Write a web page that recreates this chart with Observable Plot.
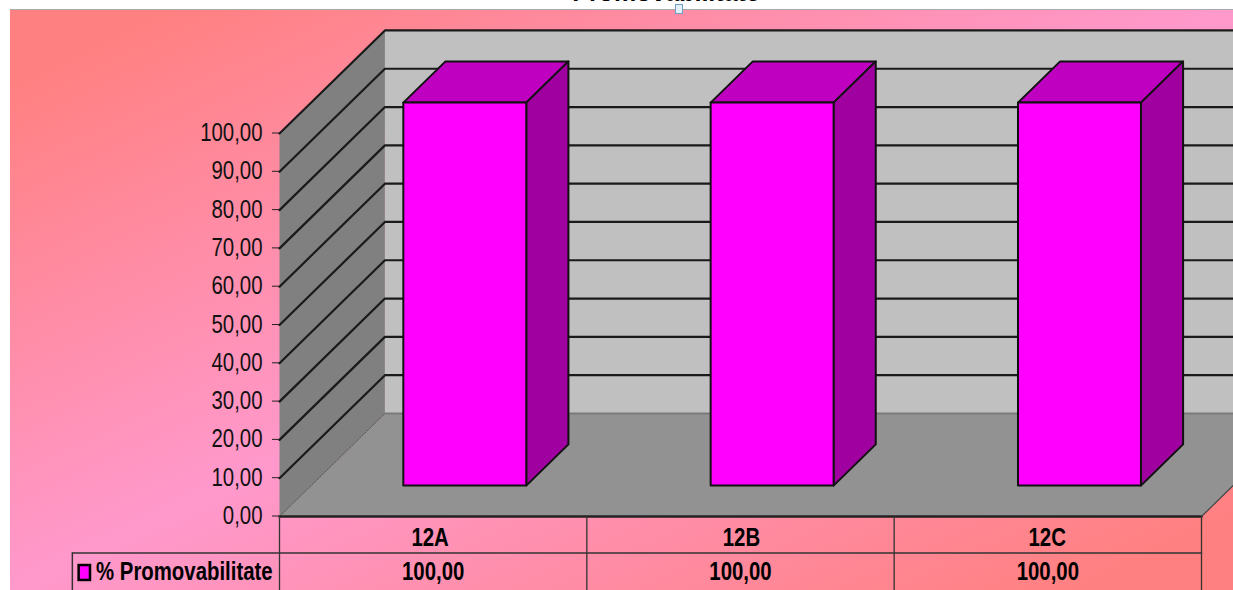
<!DOCTYPE html>
<html>
<head>
<meta charset="utf-8">
<script src="https://cdn.jsdelivr.net/npm/d3@7"></script>
<script src="https://cdn.jsdelivr.net/npm/@observablehq/plot@0.6"></script>
<style>
html,body{margin:0;padding:0;background:#fff;overflow:hidden}
#root{position:relative;width:1233px;height:590px;overflow:hidden}
#bg{position:absolute;left:10px;top:9px;right:0;bottom:0;border-top:1px solid #aaa;
  background:linear-gradient(to bottom right,#ff8080 6%,#ff99cc 50%,#ff8080 94%)}
#chart{position:absolute;left:0;top:0}
#chart svg{display:block;overflow:hidden}
#title{position:absolute;left:466px;width:400px;text-align:center;top:-22px;
  font:bold 25px "Liberation Sans",Arial,sans-serif;color:#000}
#handle{position:absolute;left:675px;top:4px;width:6px;height:8px;background:#e4f1fa;border:1px solid #6f9fc8}
</style>
</head>
<body>
<div id="root">
  <div id="bg"></div>
  <div id="chart"></div>
  <div id="title">Promovabilitate</div>
  <div id="handle"></div>
</div>
<script>
const titleText = "Promovabilitate";
const seriesName = "% Promovabilitate";
const categories = ["12A", "12B", "12C"];
const categoryLabelPos = [0.49, 1.503, 2.498];
const values = [100, 100, 100];
const yTicks = [0, 10, 20, 30, 40, 50, 60, 70, 80, 90, 100];

const fmt = v => v.toFixed(2).replace(".", ",");
const family = '"Liberation Sans",Arial,sans-serif';
const FS = 25, SQUEEZE = 0.815;

// oblique 3D projection, in data units: depth 0 = front, depth 1 = back wall
const DX = 0.343, DY = 26.9;
const P = (c, v, d = 0) => ({x: c + d * DX, y: v + d * DY});
const poly = (pts, fill, stroke = "none", strokeWidth = 1, extra = {}) =>
  Plot.line(pts, {x: "x", y: "y", fill, stroke, strokeWidth, curve: "linear-closed", ...extra});
const seg = (a, b, stroke = "#111", strokeWidth = 2, extra = {}) =>
  Plot.line([a, b], {x: "x", y: "y", stroke, strokeWidth, ...extra});

const TOP = 100, NC = categories.length, FAR = NC + 1;
const LEFT = -0.674, ROW1 = -9.5, ROW2 = -21;

const marks = [];
// floor
marks.push(poly([P(0, 0, 0), P(NC, 0, 0), P(NC, 0, 1), P(0, 0, 1)], "#929292"));
// left wall
marks.push(poly([P(0, 0, 0), P(0, 0, 1), P(0, TOP, 1), P(0, TOP, 0)], "#808080"));
// back wall
marks.push(poly([P(0, 0, 1), P(FAR, 0, 1), P(FAR, TOP, 1), P(0, TOP, 1)], "#c0c0c0"));
// wall edges
marks.push(seg(P(0, 0, 0), P(0, 0, 1), "#555", 1, {strokeDasharray: "2,1.5"}));
marks.push(seg(P(0, TOP, 0), P(0, TOP, 1), "#555", 1, {strokeDasharray: "2,1.5"}));
marks.push(seg(P(0, 0, 1), P(FAR, 0, 1), "#7a7a7a", 2));
// gridlines on both walls
for (const t of yTicks.slice(1)) {
  marks.push(Plot.line([P(0, t, 0), P(0, t, 1), P(FAR, t, 1)], {x: "x", y: "y", stroke: "#1a1a1a", strokeWidth: 2.2}));
}
// bars
categories.forEach((cat, i) => {
  const v = values[i], c0 = i + 0.3, c1 = i + 0.7, d0 = 0.3, d1 = 0.7;
  const line = {stroke: "#111", width: 2};
  marks.push(poly([P(c0, v, d0), P(c1, v, d0), P(c1, v, d1), P(c0, v, d1)], "#c000c0", line.stroke, line.width));
  marks.push(poly([P(c1, 0, d0), P(c1, 0, d1), P(c1, v, d1), P(c1, v, d0)], "#a000a0", line.stroke, line.width));
  marks.push(poly([P(c0, 0, d0), P(c1, 0, d0), P(c1, v, d0), P(c0, v, d0)], "#ff00ff", line.stroke, line.width));
});
// front axis & data table lines
marks.push(seg(P(0, 0), P(NC, 0), "#222", 2.5));
marks.push(seg(P(NC, 0), P(NC, 0, 0.4), "#444", 1.2));
marks.push(seg(P(LEFT, ROW1), P(NC, ROW1), "#333", 1.5));
marks.push(seg(P(LEFT, ROW1), P(LEFT, ROW2), "#333", 1.5));
for (let i = 0; i <= NC; i++) marks.push(seg(P(i, 0), P(i, ROW2), "#333", 1.3));
// table text
marks.push(Plot.text(categories, {
  x: (d, i) => categoryLabelPos[i], y: () => -5.6, text: d => d,
  fontWeight: "bold", fontSize: FS, fill: "#000", fontFamily: family
}));
marks.push(Plot.text(values, {
  x: (d, i) => i + 0.5, y: () => -14.6, text: d => fmt(d),
  fontWeight: "bold", fontSize: FS, fill: "#000", fontFamily: family
}));
marks.push(Plot.text([seriesName], {
  x: () => -0.597, y: () => -14.6, text: d => d, textAnchor: "start",
  fontWeight: "bold", fontSize: FS, fill: "#000", fontFamily: family
}));
// legend key
marks.push(Plot.rect([0], {
  x1: () => -0.652, x2: () => -0.615, y1: () => -12.8, y2: () => -16.7,
  fill: "#ff00ff", stroke: "#000", strokeWidth: 2.5
}));
// value axis
marks.push(Plot.axisY({
  ticks: yTicks, tickFormat: fmt, tickSize: 7, tickPadding: 10, label: null, dy: -0.5,
  fontSize: FS, stroke: "#222", fill: "#111", fontFamily: family
}));

const chart = Plot.plot({
  width: 1233, height: 590,
  marginLeft: 279, marginRight: 32, marginTop: 133, marginBottom: 74,
  x: {domain: [0, NC], axis: null},
  y: {domain: [0, 100]},
  style: {background: "none", fontFamily: family, overflow: "hidden"},
  marks
});
document.getElementById("chart").appendChild(chart);
document.getElementById("title").textContent = titleText;
// the reference's labels are horizontally condensed
chart.querySelectorAll("text").forEach(t => {
  t.setAttribute("textLength", (t.getComputedTextLength() * SQUEEZE).toFixed(1));
  t.setAttribute("lengthAdjust", "spacingAndGlyphs");
});
</script>
</body>
</html>
